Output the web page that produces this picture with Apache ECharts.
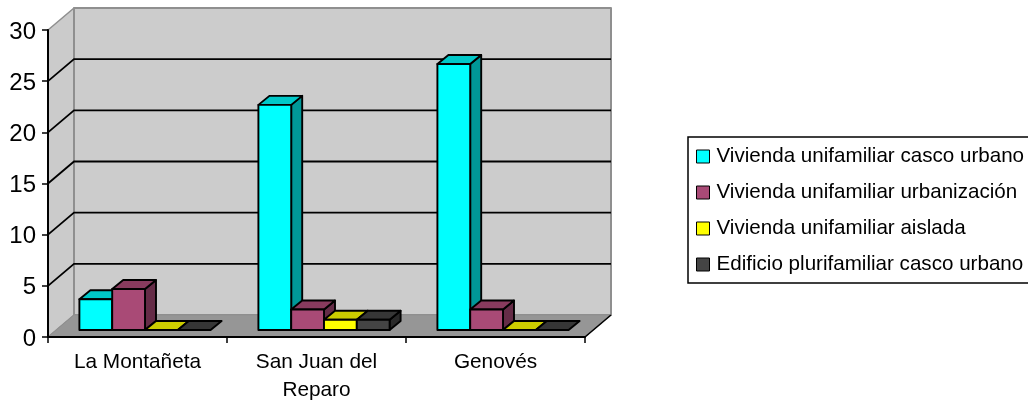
<!DOCTYPE html>
<html>
<head>
<meta charset="utf-8">
<style>html,body{margin:0;padding:0;background:#fff}#c{width:1028px;height:401px}</style>
<script src="https://cdn.jsdelivr.net/npm/echarts@6/dist/echarts.min.js"></script>
</head>
<body>
<div id="c"></div>
<script>
var categories = ['La Montañeta', 'San Juan del\nReparo', 'Genovés'];
var seriesNames = ['Vivienda unifamiliar casco urbano', 'Vivienda unifamiliar urbanización', 'Vivienda unifamiliar aislada', 'Edificio plurifamiliar casco urbano'];
var casco = [3, 22, 26];
var urbanizacion = [4, 2, 2];
var aislada = [0, 1, 0];
var edificio = [0, 1, 0];
var gridTicks = [5, 10, 15, 20, 25];

var values = [casco, urbanizacion, aislada, edificio];
var faces = [
  {front: '#00ffff', top: '#00c8c8', side: '#009898'},
  {front: '#a94a76', top: '#883b5e', side: '#652c47'},
  {front: '#ffff00', top: '#cccc00', side: '#989800'},
  {front: '#444444', top: '#363636', side: '#292929'}
];
var WALL_DX = 26, WALL_DY = -22, BAR_DX = 7.5, BAR_DY = -7, DEPTH_DX = 11, DEPTH_DY = -9, BAR_W = 32.8;
var FONT = '"Liberation Sans", Arial, sans-serif';

function poly(points, fill, stroke, lw) {
  return {type: 'polygon', shape: {points: points}, style: {fill: fill, stroke: stroke || null, lineWidth: lw || 0, lineJoin: 'round'}};
}
function renderWalls(params, api) {
  var c = params.coordSys, l = c.x, r = c.x + c.width, t = c.y, b = c.y + c.height;
  var d = [WALL_DX, WALL_DY], edge = '#8f8f8f';
  return {type: 'group', children: [
    poly([[l, t], [l + d[0], t + d[1]], [l + d[0], b + d[1]], [l, b]], '#cbcbcb', edge, 1.5),
    poly([[l + d[0], t + d[1]], [r + d[0], t + d[1]], [r + d[0], b + d[1]], [l + d[0], b + d[1]]], '#cccccc', edge, 2),
    poly([[l, b], [l + d[0], b + d[1]], [r + d[0], b + d[1]], [r, b]], '#969696', edge, 1),
    {type: 'line', shape: {x1: r, y1: b, x2: r + d[0], y2: b + d[1]}, style: {stroke: '#000', lineWidth: 1.6}}
  ]};
}
function renderGrid(params, api) {
  var p = api.coord([0, api.value(1)]), c = params.coordSys, l = c.x, r = c.x + c.width;
  return {type: 'polyline', shape: {points: [[l, p[1]], [l + WALL_DX, p[1] + WALL_DY], [r + WALL_DX, p[1] + WALL_DY]]},
    style: {fill: null, stroke: '#000', lineWidth: 1.8}};
}
function renderBar(sIdx) {
  return function (params, api) {
    var base = api.coord([api.value(0), 0]), top = api.coord([api.value(0), api.value(1)]);
    var x0 = base[0] + BAR_DX + (sIdx - 2) * BAR_W, x1 = x0 + BAR_W;
    var y0 = base[1] + BAR_DY, y1 = top[1] + BAR_DY;
    var f = faces[sIdx], s = '#000', w = 1.9;
    var kids = [];
    if (y0 - y1 > 0.5) {
      kids.push(poly([[x1, y1], [x1 + DEPTH_DX, y1 + DEPTH_DY], [x1 + DEPTH_DX, y0 + DEPTH_DY], [x1, y0]], f.side, s, w));
    }
    kids.push(poly([[x0, y1], [x0 + DEPTH_DX, y1 + DEPTH_DY], [x1 + DEPTH_DX, y1 + DEPTH_DY], [x1, y1]], f.top, s, w));
    if (y0 - y1 > 0.5) {
      kids.push(poly([[x0, y1], [x1, y1], [x1, y0], [x0, y0]], f.front, s, w));
    }
    return {type: 'group', children: kids};
  };
}

var series = [
  {type: 'custom', silent: true, z: 1, clip: false, renderItem: renderWalls, data: [[0, 0]], encode: {x: 0, y: 1}},
  {type: 'custom', silent: true, z: 1.5, clip: false, renderItem: renderGrid,
    data: gridTicks.map(function (t) { return [0, t]; }), encode: {x: 0, y: 1}}
];
seriesNames.forEach(function (name, i) {
  series.push({
    type: 'custom', name: name, z: 3, clip: false, silent: true,
    renderItem: renderBar(i),
    itemStyle: {color: faces[i].front, borderColor: '#000', borderWidth: 1},
    data: values[i].map(function (v, k) { return [k, v]; }),
    encode: {x: 0, y: 1}
  });
});

var chart = echarts.init(document.getElementById('c'), null, {renderer: 'canvas'});
chart.setOption({
  animation: false,
  backgroundColor: '#fff',
  grid: {left: 48, top: 30, width: 537, height: 307, containLabel: false, outerBoundsMode: 'none'},
  xAxis: {
    type: 'category', data: categories, z: 5,
    axisLine: {show: true, lineStyle: {color: '#000', width: 2}},
    axisTick: {show: true, alignWithLabel: false, length: 6, lineStyle: {color: '#000', width: 1.5}},
    axisLabel: {color: '#000', fontFamily: FONT, fontSize: 20.8, margin: 11, lineHeight: 28, interval: 0}
  },
  yAxis: {
    type: 'value', min: 0, max: 30, interval: 5, z: 5,
    splitLine: {show: false},
    axisLine: {show: true, lineStyle: {color: '#000', width: 2}},
    axisTick: {show: true, length: 6, lineStyle: {color: '#000', width: 1.5}},
    axisLabel: {color: '#000', fontFamily: FONT, fontSize: 24, margin: 12, formatter: '{a|{value}}',
      rich: {a: {fontFamily: FONT, fontSize: 24, color: '#000', padding: [4, 0, 0, 0]}}}
  },
  legend: {
    show: true, orient: 'vertical', left: 688, top: 137, data: seriesNames,
    padding: [9, 30, 8, 8], itemGap: 15, itemWidth: 13, itemHeight: 13, icon: 'rect',
    borderColor: '#000', borderWidth: 1.5, backgroundColor: '#fff', selectedMode: false,
    itemStyle: {borderColor: '#000', borderWidth: 1},
    textStyle: {color: '#000', fontFamily: FONT, fontSize: 20.6, padding: [0, 0, 3, 2], lineHeight: 18}
  },
  tooltip: {show: false},
  series: series
});
</script>
</body>
</html>
